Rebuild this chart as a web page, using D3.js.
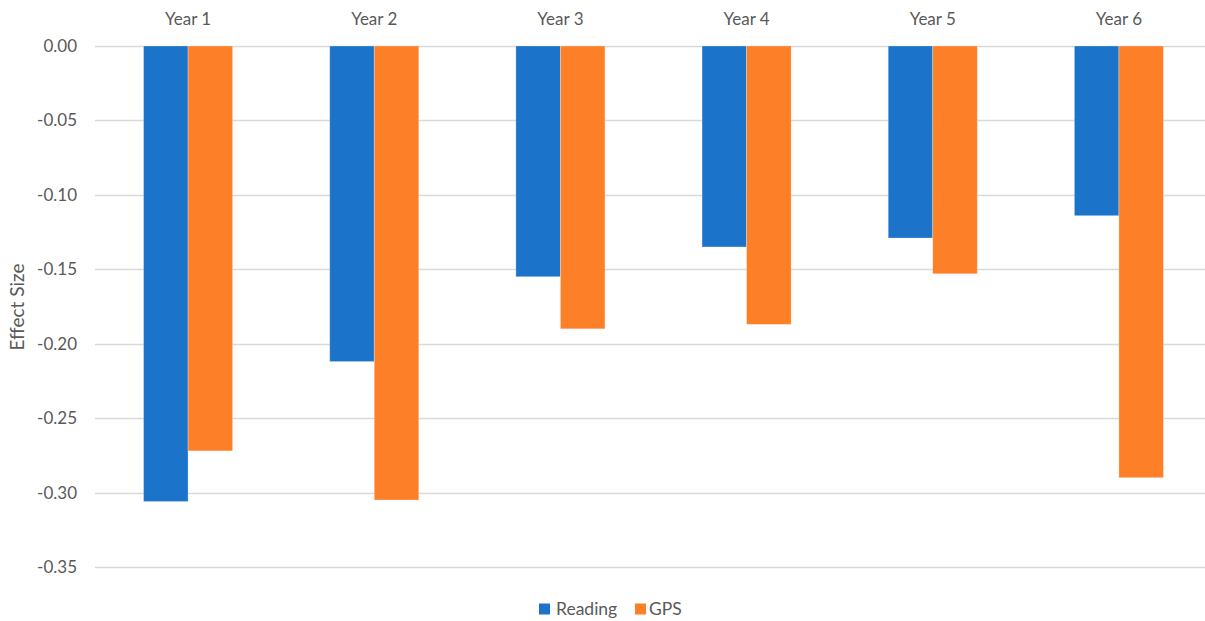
<!DOCTYPE html>
<html>
<head>
<meta charset="utf-8">
<script src="https://cdn.jsdelivr.net/npm/d3@7"></script>
<style>
  html, body { margin: 0; padding: 0; background: #fff; }
  svg { display: block; font-family: Lato, "Open Sans", sans-serif; }
</style>
</head>
<body>
<svg id="chart" width="1205" height="621"></svg>
<script>
// Effect sizes by school year
const years = ["Year 1", "Year 2", "Year 3", "Year 4", "Year 5", "Year 6"];
const reading = [-0.306, -0.212, -0.155, -0.135, -0.129, -0.114];
const gps = [-0.272, -0.305, -0.190, -0.187, -0.153, -0.290];
const seriesNames = ["Reading", "GPS"];
const seriesColors = ["#1b74c9", "#fd7f27"];
const yTicks = [0, -0.05, -0.10, -0.15, -0.20, -0.25, -0.30, -0.35];

(function draw() {
  const svg = d3.select("#chart");
  const W = 1205;
  const plotLeft = 95, plotRight = 1212, plotTop = 46, plotBottom = 567;
  const textColor = "#595959";

  const x = d3.scaleBand().domain(years).range([plotLeft, plotRight]).paddingInner(0).paddingOuter(0);
  const xs = d3.scaleBand().domain(seriesNames).range([0, x.bandwidth()]).paddingInner(0).paddingOuter(1.09);
  const y = d3.scaleLinear().domain([-0.35, 0]).range([plotBottom, plotTop]);

  // gridlines
  svg.append("g").selectAll("line").data(yTicks).join("line")
    .attr("x1", plotLeft).attr("x2", W)
    .attr("y1", d => Math.round(y(d)) + 0.5).attr("y2", d => Math.round(y(d)) + 0.5)
    .attr("stroke", "#d9d9d9").attr("stroke-width", 1.3);

  // y axis labels
  const yAxis = d3.axisLeft(y).tickValues(yTicks).tickSize(0).tickPadding(0)
    .tickFormat(d => d3.format(".2f")(d).replace("\u2212", "-"));
  const ya = svg.append("g").attr("transform", "translate(77,0)").call(yAxis);
  ya.select(".domain").remove();
  ya.selectAll("text").attr("font-size", 17).attr("fill", textColor).attr("font-family", "Lato, sans-serif");

  // category labels above plot
  const xAxis = d3.axisTop(x).tickSize(0).tickPadding(0);
  const xa = svg.append("g").attr("transform", "translate(0,25)").call(xAxis);
  xa.select(".domain").remove();
  xa.selectAll("text").attr("font-size", 17).attr("fill", textColor).attr("font-family", "Lato, sans-serif");

  // bars
  const rows = years.map((yr, i) => ({ year: yr, values: [reading[i], gps[i]] }));
  const groups = svg.append("g").selectAll("g").data(rows).join("g")
    .attr("transform", d => `translate(${x(d.year)},0)`);
  groups.selectAll("rect").data(d => d.values.map((v, j) => ({ v, s: seriesNames[j], c: seriesColors[j] })))
    .join("rect")
    .attr("x", d => xs(d.s))
    .attr("width", xs.bandwidth())
    .attr("y", y(0))
    .attr("height", d => y(d.v) - y(0))
    .attr("fill", d => d.c)
    .attr("stroke", "#ffffff").attr("stroke-opacity", 0.35).attr("stroke-width", 0.8);

  // y axis title
  svg.append("text")
    .attr("transform", `translate(24,307) rotate(-90)`)
    .attr("text-anchor", "middle")
    .attr("font-size", 19).attr("fill", textColor)
    .text("Effect Size");

  // legend
  const legend = svg.append("g").attr("transform", "translate(539,609)");
  const legendX = [0, 96];
  seriesNames.forEach((s, i) => {
    const g = legend.append("g").attr("transform", `translate(${legendX[i]},0)`);
    g.append("rect").attr("x", 0).attr("y", -5.5).attr("width", 11).attr("height", 11).attr("fill", seriesColors[i]);
    g.append("text").attr("x", i === 0 ? 17 : 14).attr("y", 0).attr("dy", "0.35em")
      .attr("font-size", 17.5).attr("fill", textColor).text(s);
  });
})();
</script>
</body>
</html>
